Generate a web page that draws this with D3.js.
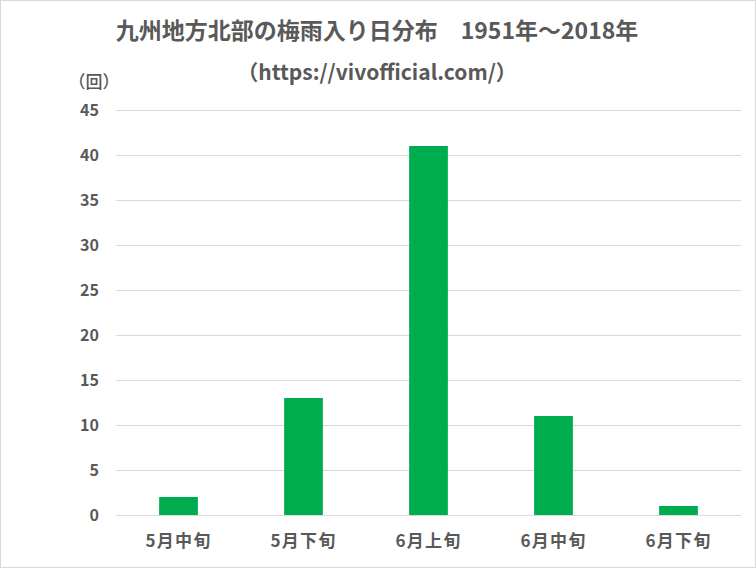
<!DOCTYPE html>
<html><head><meta charset="utf-8">
<script src="https://cdn.jsdelivr.net/npm/d3@7"></script>
<style>body{margin:0;background:#fff;} svg{display:block;}</style>
</head><body>
<script>
const categories = ["5月中旬","5月下旬","6月上旬","6月中旬","6月下旬"];
const counts = [2, 13, 41, 11, 1];
const yTicks = [0,5,10,15,20,25,30,35,40,45];
const titleText = "九州地方北部の梅雨入り日分布　1951年～2018年";
const subtitleText = "（https://vivofficial.com/）";
const unitText = "（回）";

const W = 756, H = 568;
const font = "'Noto Sans CJK JP', 'Noto Sans', sans-serif";
const svg = d3.select("body").append("svg").attr("width", W).attr("height", H);
svg.append("rect").attr("x",0.5).attr("y",0.5).attr("width",W-1).attr("height",H-1)
  .attr("fill","#fff").attr("stroke","#d9d9d9");

const m = {left:116, right:741, top:110, bottom:515};
const x = d3.scaleBand().domain(categories).range([m.left, m.right]).paddingInner(0.69).paddingOuter(0.345);
const y = d3.scaleLinear().domain([0,45]).range([m.bottom, m.top]);

const grid = svg.append("g");
grid.selectAll("line").data(yTicks).join("line")
  .attr("x1", m.left).attr("x2", m.right)
  .attr("y1", d=>Math.round(y(d))+0.5).attr("y2", d=>Math.round(y(d))+0.5)
  .attr("stroke","#d9d9d9").attr("stroke-width",1);

svg.append("g").selectAll("rect").data(counts).join("rect")
  .attr("x",(d,i)=>x(categories[i])).attr("width",x.bandwidth())
  .attr("y",d=>y(d)).attr("height",d=>y(0)-y(d)).attr("fill","#00ad4e");

const yAxis = svg.append("g").attr("transform",`translate(${m.left},0)`)
  .call(d3.axisLeft(y).tickValues(yTicks).tickSize(0).tickPadding(17));
yAxis.select(".domain").remove();
yAxis.selectAll("text").attr("font-family",font).attr("font-size",16).attr("font-weight","bold").attr("fill","#595959");

const xAxis = svg.append("g").attr("transform",`translate(0,${m.bottom})`)
  .call(d3.axisBottom(x).tickSize(0).tickPadding(20));
xAxis.select(".domain").remove();
xAxis.selectAll("text").attr("font-family",font).attr("font-size",17).attr("font-weight","bold")
  .attr("letter-spacing","1.2px").attr("fill","#595959");

svg.append("text").attr("x",377).attr("y",39).attr("text-anchor","middle")
  .attr("font-family",font).attr("font-size",23).attr("font-weight","bold").attr("fill","#595959").text(titleText);
svg.append("text").attr("x",377).attr("y",80).attr("text-anchor","middle")
  .attr("font-family",font).attr("font-size",21).attr("font-weight","bold").attr("fill","#595959").text(subtitleText);
svg.append("text").attr("x",94).attr("y",88).attr("text-anchor","middle")
  .attr("font-family",font).attr("font-size",17).attr("font-weight","500").attr("fill","#595959").text(unitText);
</script>
</body></html>
